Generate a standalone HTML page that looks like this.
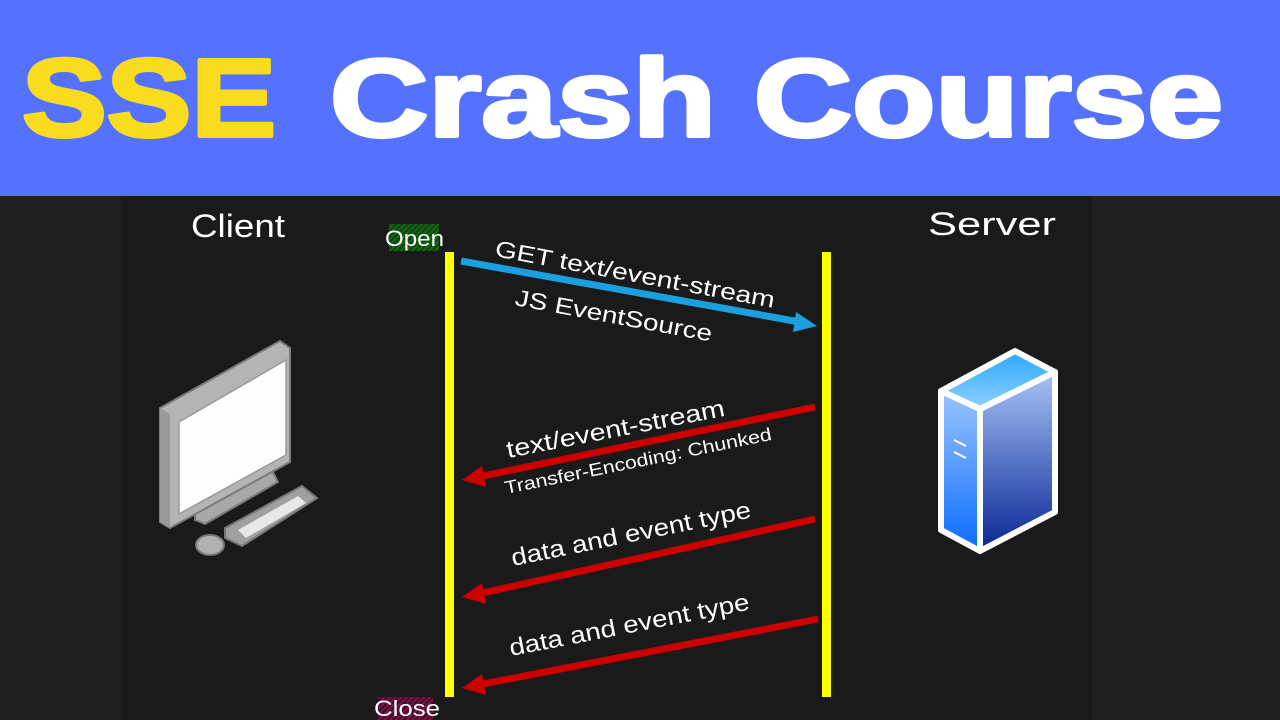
<!DOCTYPE html>
<html><head><meta charset="utf-8"><style>
html,body{margin:0;padding:0;width:1280px;height:720px;overflow:hidden;background:#202020}
svg{display:block}
</style></head><body>
<svg width="1280" height="720" viewBox="0 0 1280 720" xmlns="http://www.w3.org/2000/svg" font-family="Liberation Sans, sans-serif">
<defs>
<linearGradient id="g1" x1="0" y1="0" x2="0" y2="1"><stop offset="0" stop-color="#9cc4ff"/><stop offset="1" stop-color="#0a6cff"/></linearGradient>
<linearGradient id="g2" x1="0" y1="0" x2="0" y2="1"><stop offset="0" stop-color="#a6c4f6"/><stop offset="1" stop-color="#0a2596"/></linearGradient>
<linearGradient id="g3" x1="0" y1="0" x2="0" y2="1"><stop offset="0" stop-color="#2aa8ff"/><stop offset="1" stop-color="#8fd0ff"/></linearGradient>
<pattern id="hg" width="4" height="4" patternUnits="userSpaceOnUse" patternTransform="rotate(45)"><rect width="4" height="4" fill="#0c4a0c"/><rect width="1.5" height="4" fill="#1c6a1c"/></pattern>
<pattern id="hr" width="4" height="4" patternUnits="userSpaceOnUse" patternTransform="rotate(45)"><rect width="4" height="4" fill="#4a0c2a"/><rect width="1.5" height="4" fill="#7a1c4a"/></pattern>
</defs>
<rect x="0" y="0" width="1280" height="196" fill="#5472fe"/>
<rect x="121" y="196" width="971" height="524" fill="#1a1a1a"/>
<text x="22" y="136" font-size="110" font-weight="bold" fill="#f9dc1f" stroke="#f9dc1f" stroke-width="4" stroke-linejoin="round" textLength="254" lengthAdjust="spacingAndGlyphs">SSE</text>
<text x="330" y="136" font-size="110" font-weight="bold" fill="#ffffff" stroke="#ffffff" stroke-width="4" stroke-linejoin="round" textLength="893" lengthAdjust="spacingAndGlyphs">Crash Course</text>

<text x="191" y="237" font-size="32" fill="#fff" textLength="94" lengthAdjust="spacingAndGlyphs">Client</text>
<text x="928" y="235" font-size="32" fill="#fff" textLength="128" lengthAdjust="spacingAndGlyphs">Server</text>

<rect x="389" y="224" width="50" height="27" fill="url(#hg)"/>
<text x="385" y="246" font-size="22" fill="#fff" textLength="59" lengthAdjust="spacingAndGlyphs">Open</text>
<rect x="378" y="697" width="55" height="23" fill="url(#hr)"/>
<text x="374" y="716" font-size="22" fill="#fff" textLength="66" lengthAdjust="spacingAndGlyphs">Close</text>

<rect x="445" y="252" width="9" height="445" fill="#ffff00"/>
<rect x="822" y="252" width="9" height="445" fill="#ffff00"/>

<line x1="461" y1="261" x2="800" y2="322" stroke="#1aa0e0" stroke-width="7"/>
<polygon points="817,326 796,312 793,332" fill="#1aa0e0"/>
<text transform="translate(494,256) rotate(10.5)" font-size="23" fill="#fff" textLength="284" lengthAdjust="spacingAndGlyphs">GET text/event-stream</text>
<text transform="translate(514,305) rotate(10.5)" font-size="23" fill="#fff" textLength="200" lengthAdjust="spacingAndGlyphs">JS EventSource</text>

<g fill="#cc0000" stroke="#cc0000">
<line x1="815" y1="407" x2="478" y2="477" stroke-width="7"/>
<polygon points="462,480 482,466 486,487" stroke="none"/>
<line x1="815" y1="519" x2="478" y2="594" stroke-width="7"/>
<polygon points="462,597 482,583 486,604" stroke="none"/>
<line x1="818" y1="619" x2="478" y2="685" stroke-width="7"/>
<polygon points="462,688 482,674 486,695" stroke="none"/>
</g>
<text transform="translate(508,458) rotate(-11)" font-size="24" fill="#fff" textLength="222" lengthAdjust="spacingAndGlyphs">text/event-stream</text>
<text transform="translate(506,494) rotate(-11.5)" font-size="18" fill="#fff" textLength="272" lengthAdjust="spacingAndGlyphs">Transfer-Encoding: Chunked</text>
<text transform="translate(513,566) rotate(-11.5)" font-size="24" fill="#fff" textLength="244" lengthAdjust="spacingAndGlyphs">data and event type</text>
<text transform="translate(511,656) rotate(-11)" font-size="24" fill="#fff" textLength="244" lengthAdjust="spacingAndGlyphs">data and event type</text>

<polygon points="941,391 1015,351 1055,372 980,409" fill="url(#g3)" stroke="#fff" stroke-width="6" stroke-linejoin="round"/>
<polygon points="941,391 980,409 980,551 941,530" fill="url(#g1)" stroke="#fff" stroke-width="6" stroke-linejoin="round"/>
<polygon points="980,409 1055,372 1055,512 980,551" fill="url(#g2)" stroke="#fff" stroke-width="6" stroke-linejoin="round"/>
<line x1="954" y1="440" x2="966" y2="446" stroke="#fff" stroke-width="2"/>
<line x1="954" y1="452" x2="966" y2="458" stroke="#fff" stroke-width="2"/>

<polygon points="195,512 272,470 278,482 205,524 195,520" fill="#a8a8a8" stroke="#777" stroke-width="2"/>
<polygon points="160,408 280,341 290,348 290,462 170,528 160,522" fill="#b4b4b4" stroke="#7a7a7a" stroke-width="2"/>
<polygon points="160,408 170,414 170,528 160,522" fill="#9a9a9a"/>
<polygon points="179,422 286,360 286,455 179,514" fill="#fdfdfd" stroke="#9a9a9a" stroke-width="1.5"/>
<polygon points="225,528 302,486 317,498 242,546 225,538" fill="#a0a0a0" stroke="#777" stroke-width="2"/>
<polygon points="238,530 298,496 306,503 246,538" fill="#e8e8e8"/>
<ellipse cx="210" cy="545" rx="14" ry="10" fill="#b0b0b0" stroke="#777" stroke-width="2"/>
</svg>
</body></html>
